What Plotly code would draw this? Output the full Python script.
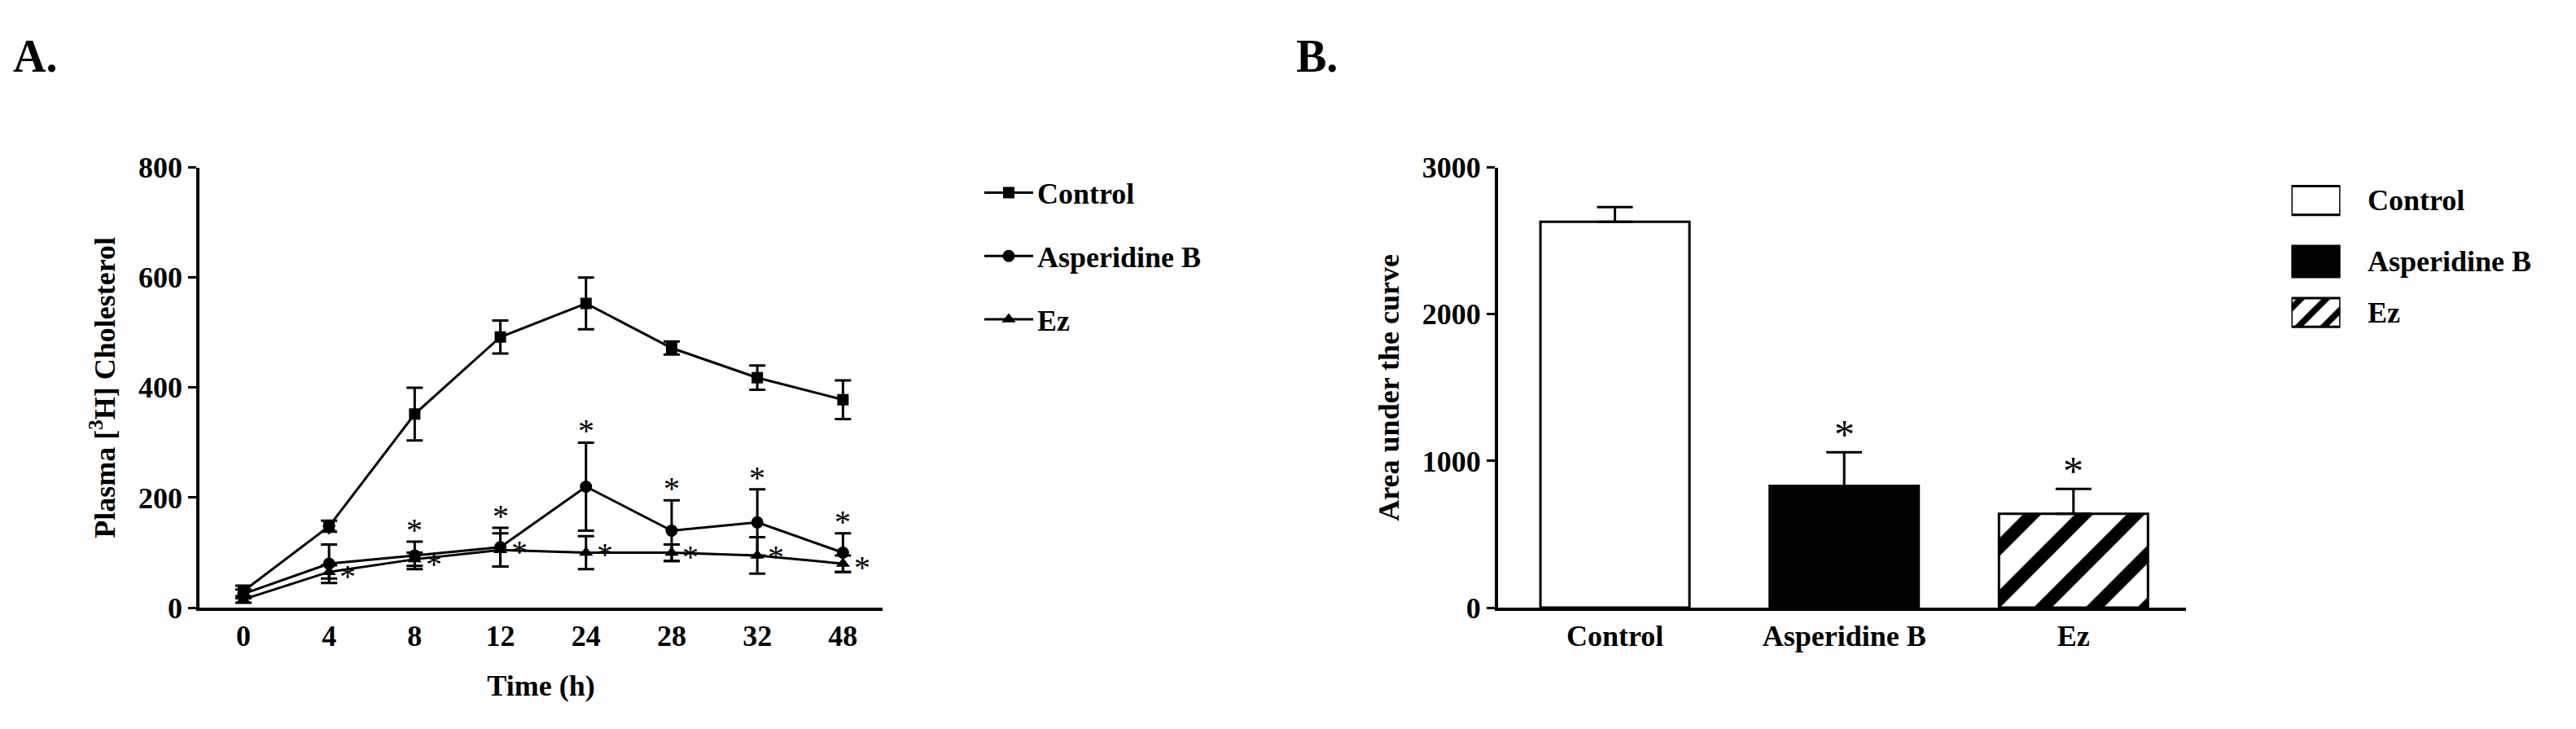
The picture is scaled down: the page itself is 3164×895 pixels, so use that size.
import plotly.graph_objects as go

times = ["0", "4", "8", "12", "24", "28", "32", "48"]
ctrl = [30, 148, 352, 492, 553, 472, 418, 378]
ctrl_err = [10, 10, 48, 30, 47, 12, 22, 35]
asp = [25, 80, 95, 110, 220, 140, 155, 100]
asp_err = [8, 35, 25, 35, 80, 55, 60, 35]
ez = [15, 65, 88, 105, 100, 100, 95, 80]
ez_err = [6, 12, 12, 30, 30, 15, 33, 15]

groups = ["Control", "Asperidine B", "Ez"]
auc = [2630, 830, 640]
auc_err = [100, 230, 170]

F = "Liberation Serif"
FS = 36
xi = list(range(len(times)))
fig = go.Figure()

def line(y, e, name, sym, size):
    fig.add_trace(go.Scatter(x=xi, y=y, name=name, mode="lines+markers",
        line=dict(color="black", width=3), marker=dict(symbol=sym, size=size, color="black"),
        error_y=dict(type="data", array=e, color="black", thickness=3, width=10),
        xaxis="x", yaxis="y", legend="legend"))

line(ctrl, ctrl_err, "Control", "square", 14)
line(asp, asp_err, "Asperidine B", "circle", 15)
line(ez, ez_err, "Ez", "triangle-up", 15)

anns = []
for i in range(1, len(times)):
    anns.append(dict(x=i, y=asp[i] + asp_err[i], xref="x", yref="y", text="*", showarrow=False,
                     yanchor="bottom", yshift=-10, font=dict(family=F, size=40, color="black")))
    anns.append(dict(x=i + 0.22, y=ez[i] + ez_err[i] * 0.3, xref="x", yref="y", text="*", showarrow=False,
                     yanchor="middle", yshift=-8, font=dict(family=F, size=40, color="black")))

hatch = dict(shape="/", fgcolor="black", bgcolor="white", size=45, solidity=0.35, fgopacity=1)
fills = [("white", None), ("black", None), ("white", hatch)]
for i, g in enumerate(groups):
    fig.add_trace(go.Bar(x=[i], y=[auc[i]], name=g, width=0.65, showlegend=False,
        marker=dict(color=fills[i][0], line=dict(color="black", width=3), pattern=fills[i][1]),
        error_y=dict(type="data", array=[auc_err[i]], arrayminus=[0], color="black", thickness=3, width=22),
        xaxis="x2", yaxis="y2"))
    if i > 0:
        anns.append(dict(x=i, y=auc[i] + auc_err[i], xref="x2", yref="y2", text="*", showarrow=False,
                         yanchor="bottom", yshift=-8, font=dict(family=F, size=50, color="black")))

# manual legend for panel B (boxes drawn as bars on a hidden axis)
leg_base = [0.774, 0.353, 0.016]
leg_h = [0.194, 0.21, 0.194]
leg_hatch = dict(shape="/", fgcolor="black", bgcolor="white", size=22, solidity=0.35, fgopacity=1)
leg_fills = [("white", None), ("black", None), ("white", leg_hatch)]
for i, g in enumerate(groups):
    fig.add_trace(go.Bar(x=[0], y=[leg_h[i]], base=[leg_base[i]], width=1, showlegend=False, hoverinfo="skip",
        marker=dict(color=leg_fills[i][0], line=dict(color="black", width=3), pattern=leg_fills[i][1]),
        xaxis="x3", yaxis="y3"))
    anns.append(dict(x=0.916, y=leg_base[i] + leg_h[i] / 2, xref="paper", yref="y3", text="<b>%s</b>" % g,
                     showarrow=False, xanchor="left", font=dict(family=F, size=FS, color="black")))

anns += [
    dict(x=0.002, y=0.99, xref="paper", yref="paper", text="<b>A.</b>", showarrow=False, xanchor="left", yanchor="top", font=dict(family=F, size=56, color="black")),
    dict(x=0.5, y=0.99, xref="paper", yref="paper", text="<b>B.</b>", showarrow=False, xanchor="left", yanchor="top", font=dict(family=F, size=56, color="black")),
]

ax = dict(showline=True, linecolor="black", linewidth=4, ticks="outside", tickwidth=3, ticklen=10,
          tickcolor="black", showgrid=False, zeroline=False, tickfont=dict(family=F, size=FS, color="black"))
tf = dict(family=F, size=FS, color="black")
fig.update_layout(
    width=3164, height=895, margin=dict(l=0, r=0, t=0, b=0),
    plot_bgcolor="white", paper_bgcolor="white", font=dict(family=F, color="black"),
    barmode="overlay",
    xaxis=dict(ax, domain=[0.075, 0.340], range=[-0.51, 7.46], tickvals=xi, ticktext=["<b>%s</b>" % t for t in times],
               ticks="", title=dict(text="<b>Time (h)</b>", font=tf, standoff=30)),
    yaxis=dict(ax, domain=[0.159, 0.791], range=[0, 800], dtick=200, tickprefix="<b>", ticksuffix="</b>",
               title=dict(text="<b>Plasma [<sup>3</sup>H] Cholesterol</b>", font=tf, standoff=18)),
    xaxis2=dict(ax, domain=[0.579, 0.846], range=[-0.51, 2.49], tickvals=[0, 1, 2], ticktext=["<b>%s</b>" % g for g in groups],
                ticks="", anchor="y2"),
    yaxis2=dict(ax, domain=[0.159, 0.791], range=[0, 3000], dtick=1000, tickprefix="<b>", ticksuffix="</b>", anchor="x2",
                title=dict(text="<b>Area under the curve</b>", font=tf, standoff=18)),
    xaxis3=dict(domain=[0.887, 0.906], range=[-0.5, 0.5], visible=False, anchor="y3", fixedrange=True),
    yaxis3=dict(domain=[0.559, 0.771], range=[0, 1], visible=False, anchor="x3", fixedrange=True),
    legend=dict(x=0.378, y=0.79, xanchor="left", yanchor="top", font=dict(family=F, size=FS, color="black", weight="bold"),
                tracegroupgap=28, itemwidth=60, bgcolor="rgba(0,0,0,0)", traceorder="grouped"),
    annotations=anns, showlegend=True,
)
for t in fig.data:
    if t.type == "scatter":
        t.legendgroup = t.name
fig.write_html("out.html")
